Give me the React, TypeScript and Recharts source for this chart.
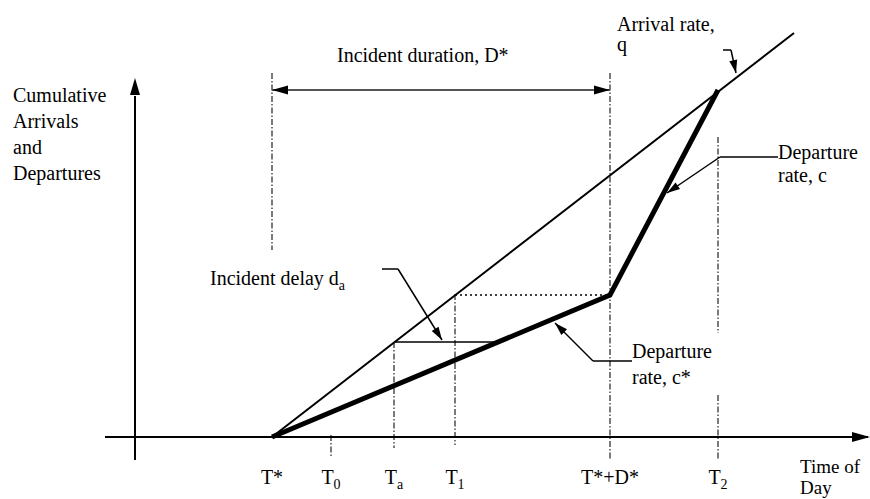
import * as React from "react";
import {
  ComposedChart,
  Line,
  XAxis,
  YAxis,
  ReferenceLine,
  ReferenceDot,
} from "recharts";

// time of day (x) and cumulative vehicles (y), same scale on both axes
const arrivalCurve = [
  { x: 13.7, y: 0 },
  { x: 65.9, y: 40.4 },
];
const departureCurve = [
  { x: 13.7, y: 0 },
  { x: 47.5, y: 14.2 },
  { x: 58.3, y: 34.7 },
];

const tickNames = ["T", "T", "T", "T", "T*+D*", "T"];
const tickSubs = ["*", "0", "a", "1", "", "2"];
const tickTimes = [13.7, 19.6, 25.9, 32.0, 47.5, 58.3];
// vertical guide extents for each tick
const guideTops = [36.4, 0.2, 9.5, 14.3, 36.4, 30.0];
const guideBottoms = [18.7, -2.1, -1.1, -0.8, -2.3, 10.4];

const yAxisLines = ["Cumulative", "Arrivals", "and", "Departures"];

const X_DOMAIN: [number, number] = [-13.5, 73.5];
const Y_DOMAIN: [number, number] = [-6.2, 43.7];

const FONT = "Liberation Serif, DejaVu Serif, serif";

type Pt = { x: number; y: number };

function arrowShape(from: Pt, to: Pt, len: number, wid: number) {
  const ang = Math.atan2(-(to.y - from.y), to.x - from.x);
  return (props: any) => {
    const { cx, cy } = props;
    if (cx == null || cy == null) return <g />;
    const bx = cx - len * Math.cos(ang);
    const by = cy - len * Math.sin(ang);
    const nx = -Math.sin(ang) * (wid / 2);
    const ny = Math.cos(ang) * (wid / 2);
    return (
      <polygon
        points={`${cx},${cy} ${bx + nx},${by + ny} ${bx - nx},${by - ny}`}
        fill="#000"
      />
    );
  };
}

function textShape(main: string, sub?: string, anchor: string = "start", size = 20) {
  return (props: any) => {
    const { cx, cy } = props;
    if (cx == null || cy == null) return <g />;
    const star = sub === "*";
    return (
      <text
        x={cx}
        y={cy}
        textAnchor={anchor as any}
        fontFamily={FONT}
        fontSize={size}
        style={{ fontFamily: FONT, fontSize: size }}
        fill="#000"
      >
        {main}
        {sub ? (
          <tspan dy={star ? 0 : 5} style={{ fontSize: star ? size : 14 }}>
            {sub}
          </tspan>
        ) : null}
      </text>
    );
  };
}

export default function App() {
  const seg = (a: Pt, b: Pt, key: string, w = 1.5, dash?: string, color = "#000") => (
    <ReferenceLine
      key={key}
      segment={[a, b]}
      stroke={color}
      strokeWidth={w}
      strokeDasharray={dash}
      ifOverflow="visible"
    />
  );
  const dot = (p: Pt, key: string, shape: any) => (
    <ReferenceDot key={key} x={p.x} y={p.y} r={0} shape={shape} ifOverflow="visible" />
  );

  // axes
  const yAxisFrom = { x: 0, y: -2.3 };
  const yAxisTo = { x: 0, y: 34.1 };
  const xAxisFrom = { x: -3, y: 0 };
  const xAxisTo = { x: 73.3, y: 0 };

  // incident duration arrow
  const durY = 34.7;
  const durFrom = { x: tickTimes[0], y: durY };
  const durTo = { x: tickTimes[4], y: durY };

  // delay construction lines
  const delayY = 9.5;
  const delayEnd = { x: 36.3, y: delayY };
  const queueY = 14.2;

  // leader lines: [label end, elbow, tip]
  const leaderC = [{ x: 64.3, y: 28.0 }, { x: 58.5, y: 28.0 }, { x: 53.2, y: 24.4 }];
  const leaderCs = [{ x: 49.7, y: 7.6 }, { x: 45.8, y: 7.6 }, { x: 42.0, y: 11.4 }];
  const leaderD = [{ x: 24.7, y: 16.8 }, { x: 26.3, y: 16.8 }, { x: 30.7, y: 9.7 }];
  const leaderQ = [{ x: 58.8, y: 38.7 }, { x: 59.6, y: 38.7 }, { x: 60.1, y: 36.4 }];
  const leaders = [leaderC, leaderCs, leaderD, leaderQ];

  return (
    <div style={{ position: "absolute", left: 0, top: 0, background: "#fff", fontFamily: FONT }}>
      <ComposedChart width={870} height={499} margin={{ top: 0, right: 0, bottom: 0, left: 0 }}>
        <XAxis type="number" dataKey="x" domain={X_DOMAIN} allowDataOverflow hide />
        <YAxis type="number" dataKey="y" domain={Y_DOMAIN} allowDataOverflow hide />

        {/* tick guides */}
        {tickTimes.map((t, i) =>
          seg({ x: t, y: guideTops[i] }, { x: t, y: guideBottoms[i] }, `g${i}`, 1.2, "6 2 1.5 2", "#222")
        )}
        {seg({ x: tickTimes[5], y: 4.2 }, { x: tickTimes[5], y: -2.3 }, "g5b", 1.2, "6 2 1.5 2", "#222")}

        {/* axes */}
        {seg(yAxisFrom, yAxisTo, "ya", 2)}
        {seg(xAxisFrom, xAxisTo, "xa", 2)}
        {dot({ x: 0, y: 35.9 }, "yarr", arrowShape(yAxisFrom, yAxisTo, 17, 10))}
        {dot({ x: 73.5, y: 0 }, "xarr", arrowShape(xAxisFrom, xAxisTo, 18, 10))}

        {/* duration */}
        {seg(durFrom, durTo, "dur", 2, undefined, "#555")}
        {dot(durFrom, "durL", arrowShape(durTo, durFrom, 16, 9))}
        {dot(durTo, "durR", arrowShape(durFrom, durTo, 16, 9))}

        {/* delay construction */}
        {seg({ x: tickTimes[2], y: delayY }, delayEnd, "dly", 1.5)}
        {seg({ x: tickTimes[3], y: queueY }, { x: tickTimes[4], y: queueY }, "que", 1.5, "2 3")}

        {/* leaders */}
        {leaders.map((l, i) => seg(l[0], l[1], `l${i}a`, 1.5))}
        {leaders.map((l, i) => seg(l[1], l[2], `l${i}b`, 1.5))}
        {leaders.map((l, i) => dot(l[2], `l${i}c`, arrowShape(l[1], l[2], 13, 8)))}

        <Line
          data={arrivalCurve}
          dataKey="y"
          type="linear"
          stroke="#000"
          strokeWidth={2}
          dot={false}
          activeDot={false}
          isAnimationActive={false}
        />
        <Line
          data={departureCurve}
          dataKey="y"
          type="linear"
          stroke="#000"
          strokeWidth={5}
          strokeLinejoin="miter"
          dot={false}
          activeDot={false}
          isAnimationActive={false}
        />

        {/* text */}
        {yAxisLines.map((s, i) => dot({ x: -12.2, y: 33.5 - i * 2.6 }, `yl${i}`, textShape(s)))}
        {dot({ x: 20.2, y: 37.5 }, "tdur", textShape("Incident duration, D*"))}
        {dot({ x: 48.2, y: 40.6 }, "tq1", textShape("Arrival rate,"))}
        {dot({ x: 48.2, y: 38.6 }, "tq2", textShape("q"))}
        {dot({ x: 64.3, y: 27.8 }, "tc1", textShape("Departure"))}
        {dot({ x: 64.3, y: 25.5 }, "tc2", textShape("rate, c"))}
        {dot({ x: 49.7, y: 7.9 }, "tcs1", textShape("Departure"))}
        {dot({ x: 49.7, y: 5.3 }, "tcs2", textShape("rate, c*"))}
        {dot({ x: 7.5, y: 15.2 }, "tdl", textShape("Incident delay d", "a"))}
        {tickTimes.map((t, i) =>
          dot({ x: t, y: -4.7 }, `tk${i}`, textShape(tickNames[i], tickSubs[i], "middle"))
        )}
        {dot({ x: 66.5, y: -3.6 }, "tx1", textShape("Time of", undefined, "start", 19))}
        {dot({ x: 66.5, y: -5.7 }, "tx2", textShape("Day", undefined, "start", 19))}
      </ComposedChart>
    </div>
  );
}
